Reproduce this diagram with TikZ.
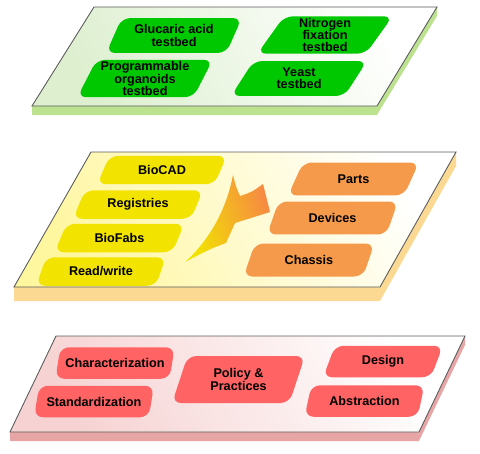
\documentclass[tikz,border=0pt]{standalone}
\usepackage{fontspec}
\setmainfont{Liberation Sans}
\usetikzlibrary{shapes.geometric}
\definecolor{tilegreen}{HTML}{00C800}
\definecolor{tileyellow}{HTML}{F2E400}
\definecolor{tileorange}{HTML}{F5994A}
\definecolor{tilered}{HTML}{FF6363}
\definecolor{sidegreen}{HTML}{BCE290}
\definecolor{sideyellow}{HTML}{FCD992}
\definecolor{sidered}{HTML}{E8A5A5}
\definecolor{facegreen}{HTML}{DDEFCF}
\definecolor{faceyellow}{HTML}{FFF6A0}
\definecolor{facered}{HTML}{F6D2D2}
\definecolor{edgegray}{HTML}{5A5A5A}
\begin{document}
\begin{tikzpicture}[x=0.02cm, y=-0.02cm,
	tile/.style={shape=trapezium, trapezium stretches=true, rounded corners=5pt, inner sep=1pt, align=center, font=\fontsize{7.2}{7}\selectfont\bfseries},
	greentile/.style={tile, fill=tilegreen, trapezium left angle=64, trapezium right angle=116, minimum width=2.72cm, minimum height=0.7cm},
	yellowtile/.style={tile, fill=tileyellow, trapezium left angle=65, trapezium right angle=115, minimum width=2.6cm, minimum height=0.57cm},
	orangetile/.style={tile, fill=tileorange, trapezium left angle=67, trapezium right angle=113, minimum width=2.62cm, minimum height=0.66cm},
	redtile/.style={tile, fill=tilered, trapezium left angle=70, trapezium right angle=110, minimum width=2.4cm, minimum height=0.63cm},
	edge/.style={draw=edgegray, line width=0.5pt}]
		\useasboundingbox (0,0) rectangle (480,453);
		
		% top layer
		\fill[sidegreen] (32,106) -- (377,106) -- (437,7) -- (437,16) -- (377,115) -- (32,115) -- cycle;
		\shade[left color=facegreen, right color=white, shading angle=120] (94,7) -- (437,7) -- (377,106) -- (32,106) -- cycle;
		\draw[edge] (94,7) -- (437,7) -- (377,106) -- (32,106) -- cycle;
		
		\node[greentile] (glucaric) at (174,35.5) {Glucaric acid\\testbed};
		\node[greentile] (nitrogen) at (325,35) {Nitrogen\\fixation\\testbed};
		\node[greentile] (organoids) at (145,78.5) {Programmable\\organoids\\testbed};
		\node[greentile] (yeast) at (299,78.5) {Yeast\\testbed};
		
		% middle layer
		\fill[sideyellow] (14,287) -- (380,287) -- (456,152) -- (456,166) -- (380,301) -- (14,301) -- cycle;
		\shade[left color=faceyellow, right color=white, shading angle=120] (91,152) -- (456,152) -- (380,287) -- (14,287) -- cycle;
		\draw[edge] (91,152) -- (456,152) -- (380,287) -- (14,287) -- cycle;
		
		\node[yellowtile] (biocad) at (162,170) {BioCAD};
		\node[yellowtile] (registries) at (138,204.5) {Registries};
		\node[yellowtile] (biofabs) at (119.5,238) {BioFabs};
		\node[yellowtile] (readwrite) at (101,271.5) {Read/write};
		
		\shade[left color=tileyellow, right color=tileorange!90!red, shading angle=110]
			(185,262) .. controls (214,236) and (228,202) .. (233,175)
			.. controls (236,187) .. (240,196)
			.. controls (252,192) .. (263,184)
			-- (270,212) -- (235,223) -- (226,243)
			.. controls (210,249) .. (185,262) -- cycle;
		
		\node[orangetile] (parts) at (353.5,179) {Parts};
		\node[orangetile] (devices) at (332.5,218) {Devices};
		\node[orangetile] (chassis) at (309,260) {Chassis};
		
		% bottom layer
		\fill[sidered] (10,432) -- (419,432) -- (465,336) -- (465,345) -- (419,441) -- (10,441) -- cycle;
		\shade[left color=facered, right color=white, shading angle=120] (56,336) -- (465,336) -- (419,432) -- (10,432) -- cycle;
		\draw[edge] (56,336) -- (465,336) -- (419,432) -- (10,432) -- cycle;
		
		\node[redtile] (characterization) at (115,363) {Characterization};
		\node[redtile] (standardization) at (94,401.5) {Standardization};
		\node[redtile, minimum width=2.66cm, minimum height=0.94cm] (policy) at (238.5,379.5) {Policy \&\\Practices};
		\node[redtile] (design) at (383,361.5) {Design};
		\node[redtile] (abstraction) at (364.5,401) {Abstraction};
		
	\end{tikzpicture}
\end{document}
